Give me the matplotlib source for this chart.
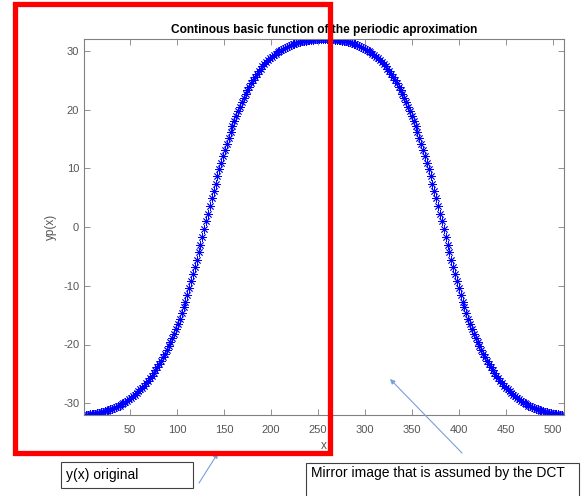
import numpy as np
import matplotlib
matplotlib.use("Agg")
import matplotlib.pyplot as plt
from matplotlib.patches import Rectangle, FancyArrowPatch

# ---- data ----
# original half: x = 1, 3, 5, ..., 255
x_half = list(range(1, 256, 2))
y_half = [
    -32.00, -31.97, -31.94, -31.91, -31.87, -31.82, -31.75, -31.68, -31.61, -31.54,
    -31.46, -31.36, -31.26, -31.16, -31.06, -30.94, -30.81, -30.67, -30.53, -30.39,
    -30.20, -29.98, -29.76, -29.54, -29.32, -29.08, -28.84, -28.60, -28.28, -27.96,
    -27.64, -27.32, -27.00, -26.60, -26.20, -25.78, -25.34, -24.90, -24.38, -23.86,
    -23.32, -22.76, -22.20, -21.56, -20.92, -20.26, -19.58, -18.90, -18.14, -17.38,
    -16.54, -15.62, -14.70, -13.70, -12.70, -11.60, -10.40, -9.20, -8.00, -6.80,
    -5.56, -4.28, -3.00, -1.68, -0.36, 0.96, 2.28, 3.60, 4.88, 6.16,
    7.40, 8.60, 9.80, 10.92, 12.04, 13.12, 14.16, 15.20, 16.16, 17.12,
    18.02, 18.86, 19.70, 20.46, 21.22, 21.94, 22.62, 23.30, 23.90, 24.50,
    25.05, 25.55, 26.05, 26.50, 26.95, 27.37, 27.72, 28.05, 28.38, 28.72,
    29.02, 29.26, 29.50, 29.74, 29.98, 30.18, 30.34, 30.50, 30.66, 30.82,
    30.96, 31.08, 31.20, 31.32, 31.44, 31.53, 31.59, 31.65, 31.71, 31.77,
    31.82, 31.86, 31.90, 31.94, 31.97, 31.99, 32.00, 32.00,
]
N = 512
x_ticks = [50, 100, 150, 200, 250, 300, 350, 400, 450, 500]
y_ticks = [-30, -20, -10, 0, 10, 20, 30]
title = "Continous basic function of the periodic aproximation"
label_orig = "y(x) original"
label_mirror = "Mirror image that is assumed by the DCT"

# mirror image (as assumed by the DCT): x -> N + 1 - x
x_all = list(x_half) + [N + 1 - v for v in reversed(x_half)]
y_all = list(y_half) + list(reversed(y_half))

plt.rcParams['font.family'] = ['Liberation Sans', 'DejaVu Sans']
plt.rcParams['axes.unicode_minus'] = False
W, H = 585, 496
fig = plt.figure(figsize=(W / 100, H / 100), dpi=100)

def fx(px):
    return px / W

def fy(py):
    return 1 - py / H

ax = fig.add_axes([fx(84), fy(415), fx(564) - fx(84), fy(39) - fy(415)])
ax.plot(x_all, y_all, linestyle='none', marker=(8, 2, 0), markersize=6,
        markeredgewidth=0.6, color=(0, 0, 1))
ax.set_xlim(1, N)
ax.set_ylim(-32, 32)
ax.set_xticks(x_ticks)
ax.set_yticks(y_ticks)
gray = '#808080'
for s in ax.spines.values():
    s.set_color(gray)
    s.set_linewidth(0.8)
ax.tick_params(direction='in', top=True, right=True, length=4, width=0.6,
               colors=gray, labelcolor='#555555', labelsize=8)
ax.tick_params(axis='x', pad=7)
ax.set_title(title, fontsize=8.6, fontweight='bold', pad=4)
ax.set_xlabel('x', fontsize=8.5, color='#555555', labelpad=4)
ax.set_ylabel('yp(x)', fontsize=8.5, color='#555555', labelpad=4)

# red rectangle around the original half
fig.patches.append(Rectangle((fx(15), fy(452.5)), fx(330) - fx(15), fy(4.5) - fy(452.5),
                             transform=fig.transFigure, fill=False, edgecolor=(1, 0, 0),
                             linewidth=3.8, zorder=10))

# annotation boxes
fig.patches.append(Rectangle((fx(61), fy(488)), fx(193) - fx(61), fy(462) - fy(488),
                             transform=fig.transFigure, fill=True, facecolor='white',
                             edgecolor='#404040', linewidth=0.8))
fig.text(fx(66), fy(475), label_orig, fontsize=10, va='center', ha='left')

fig.patches.append(Rectangle((fx(306), fy(500)), fx(579) - fx(306), fy(463) - fy(500),
                             transform=fig.transFigure, fill=True, facecolor='white',
                             edgecolor='#404040', linewidth=0.8))
fig.text(fx(311), fy(473), label_mirror, fontsize=10, va='center', ha='left')

arrow_col = '#7a9fd8'
for (x0, y0, x1, y1) in [(199, 483, 218, 453), (462, 453, 390, 379)]:
    fig.patches.append(FancyArrowPatch((fx(x0), fy(y0)), (fx(x1), fy(y1)),
                                       transform=fig.transFigure, arrowstyle='-|>',
                                       mutation_scale=7, color=arrow_col, linewidth=0.8,
                                       shrinkA=0, shrinkB=0))

fig.savefig('out.png', dpi=100)
